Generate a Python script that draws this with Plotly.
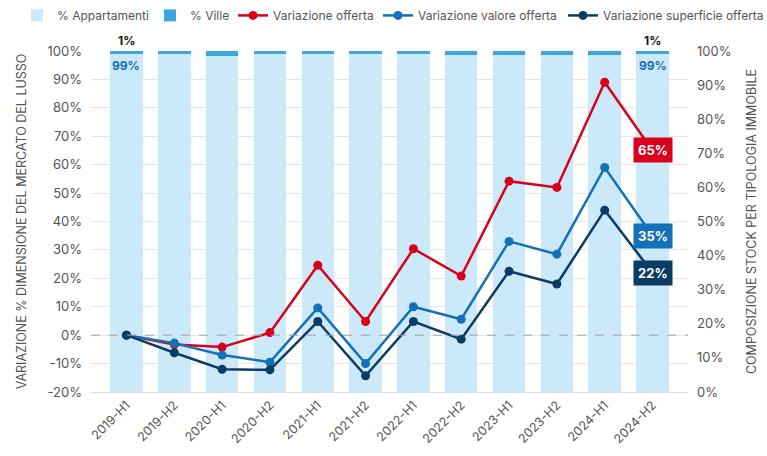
import plotly.graph_objects as go

categories = ["2019-H1", "2019-H2", "2020-H1", "2020-H2", "2021-H1", "2021-H2",
              "2022-H1", "2022-H2", "2023-H1", "2023-H2", "2024-H1", "2024-H2"]
pct_appartamenti = [99, 99.2, 98.6, 99.1, 99, 99, 99, 98.8, 98.9, 98.9, 98.8, 99]
pct_ville = [1, 0.8, 1.4, 0.9, 1, 1, 1, 1.2, 1.1, 1.1, 1.2, 1]
var_offerta = [0, -3.3, -4.2, 0.9, 24.6, 4.8, 30.4, 20.8, 54.2, 52.0, 89.0, 65]
var_valore = [0, -2.8, -7.0, -9.5, 9.6, -10.0, 10.0, 5.6, 33.0, 28.5, 59.0, 35]
var_superficie = [0, -6.2, -12.0, -12.2, 4.8, -14.3, 4.8, -1.4, 22.5, 18.0, 44.0, 22]
left_ticks = [-20, -10, 0, 10, 20, 30, 40, 50, 60, 70, 80, 90, 100]
left_ticktext = [f"{v}%" for v in left_ticks]

C_APP = "#cce9fa"
C_VIL = "#3ea6de"
C_RED = "#d9001b"
C_BLUE = "#1470b8"
C_NAVY = "#0c3c64"
FONT = "Inter"

W, H = 767, 456
legend_left_px = [17, 150, 233, 378, 563]

fig = go.Figure()
fig.add_trace(go.Bar(x=categories, y=pct_appartamenti, name="% Appartamenti",
                     marker=dict(color=C_APP, line_width=0), yaxis="y",
                     legend="legend", showlegend=True))
fig.add_trace(go.Bar(x=categories, y=pct_ville, name="% Ville",
                     marker=dict(color=C_VIL, line_width=0), yaxis="y",
                     legend="legend2", showlegend=True))
for k, (name, vals, col) in enumerate([("Variazione offerta", var_offerta, C_RED),
                        ("Variazione valore offerta", var_valore, C_BLUE),
                        ("Variazione superficie offerta", var_superficie, C_NAVY)]):
    fig.add_trace(go.Scatter(x=categories, y=vals, name=name, mode="lines+markers",
                             line=dict(color=col, width=2.5),
                             marker=dict(color=col, size=9), yaxis="y2",
                             legend=f"legend{k + 3}", showlegend=True))

# end labels
for vals, col in [(var_offerta, C_RED), (var_valore, C_BLUE), (var_superficie, C_NAVY)]:
    fig.add_annotation(x=categories[-1], y=vals[-1], xref="x", yref="y2",
                       text=f"<b>{vals[-1]:.0f}%</b>", showarrow=False,
                       bgcolor=col, font=dict(color="white", size=13, family=FONT),
                       borderpad=4)

# bar composition labels
for i in [0, len(categories) - 1]:
    fig.add_annotation(x=categories[i], y=100, xref="x", yref="y",
                       text=f"<b>{pct_ville[i]:.0f}%</b>", showarrow=False,
                       yanchor="bottom", yshift=1,
                       font=dict(color="#111", size=12, family=FONT))
    fig.add_annotation(x=categories[i], y=100, xref="x", yref="y",
                       text=f"<b>{pct_appartamenti[i]:.0f}%</b>", showarrow=False,
                       yanchor="top", yshift=-5,
                       font=dict(color=C_BLUE, size=12, family=FONT))

fig.add_shape(type="line", xref="paper", yref="y2", x0=0, x1=1, y0=0, y1=0,
              line=dict(color="#a0a0a0", width=1, dash="dash"), layer="above")

legends = {}
for k, px in enumerate(legend_left_px):
    key = "legend" if k == 0 else f"legend{k + 1}"
    legends[key] = dict(orientation="h", xref="container", yref="container",
                        x=px / W, xanchor="left", y=0.998, yanchor="top",
                        font=dict(size=12, color="#555"), bgcolor="rgba(0,0,0,0)",
                        visible=True)

fig.update_layout(
    width=W, height=H, showlegend=True,
    margin=dict(l=91, r=79, t=51, b=64, autoexpand=False),
    barmode="stack", bargap=0.32,
    paper_bgcolor="white", plot_bgcolor="white",
    font=dict(family=FONT, color="#555", size=13),
    xaxis=dict(tickangle=-45, showgrid=False, showline=True, linecolor="#dcdcdc",
               ticks="", tickfont=dict(size=12.5, color="#555")),
    yaxis=dict(side="right", range=[0, 100], dtick=10, ticksuffix="%",
               showgrid=False, zeroline=False, ticks="", ticklabelstandoff=8,
               title=dict(text="COMPOSIZIONE STOCK PER TIPOLOGIA IMMOBILE",
                          font=dict(size=12.5, color="#555"), standoff=16),
               tickfont=dict(size=13, color="#555")),
    yaxis2=dict(side="left", overlaying="y", range=[-20, 100],
                tickvals=left_ticks, ticktext=left_ticktext,
                showgrid=True, gridcolor="#e6e6e6",
                zeroline=False, ticks="", ticklabelstandoff=8,
                title=dict(text="VARIAZIONE % DIMENSIONE DEL MERCATO DEL LUSSO",
                           font=dict(size=12.5, color="#555"), standoff=18),
                tickfont=dict(size=13, color="#555")),
    **legends,
)

fig.write_html("out.html")
